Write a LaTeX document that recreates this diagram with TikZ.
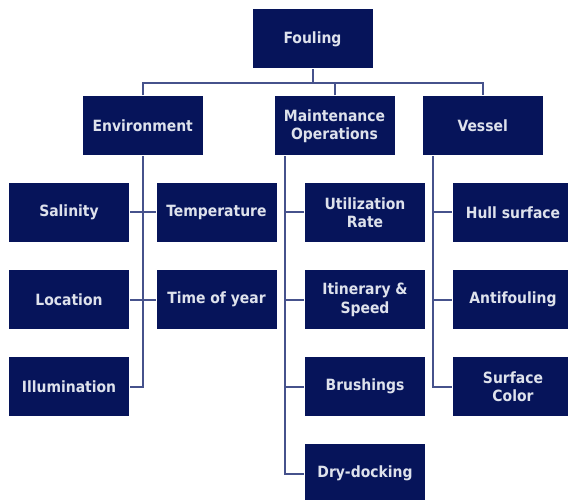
\documentclass[tikz,border=0pt]{standalone}
\usepackage{fontspec}
\usepackage{tikz}
\newfontfamily\boxfont{DejaVu Sans Condensed}
\definecolor{navybox}{RGB}{6,20,90}
\definecolor{linkblue}{RGB}{70,82,140}
\definecolor{boxtext}{RGB}{222,226,236}

\begin{document}
\begin{tikzpicture}[x=1pt, y=-1pt, line width=2pt,
    box/.style = {fill=navybox, text=boxtext, minimum width=120pt, minimum height=59pt,
        inner sep=0pt, align=center, font=\boxfont\bfseries\fontsize{15.5}{18.5}\selectfont},
    link/.style = {draw=linkblue, line width=2pt}]

    \clip (0,0) rectangle (568,500);
    \useasboundingbox (0,0) rectangle (568,500);

    % Nodes
    \node[box] (fouling) at (312.5, 39) {Fouling};
    \node[box] (env) at (142.7, 126) {Environment};
    \node[box] (maint) at (334.5, 126) {Maintenance\\Operations};
    \node[box] (vessel) at (482.7, 126) {Vessel};

    \node[box] (salinity) at (69, 212.5) {Salinity};
    \node[box] (temp) at (216.5, 212.5) {Temperature};
    \node[box] (location) at (69, 299.5) {Location};
    \node[box] (timeyear) at (216.5, 299.5) {Time of year};
    \node[box] (illum) at (69, 386.5) {Illumination};

    \node[box] (util) at (365, 212.5) {Utilization\\Rate};
    \node[box] (itin) at (365, 299.5) {Itinerary \&\\Speed};
    \node[box] (brush) at (365, 386.5) {Brushings};
    \node[box] (dry) at (365, 473.5) {Dry-docking};

    \node[box] (hull) at (513, 212.5) {Hull surface};
    \node[box] (anti) at (513, 299.5) {Antifouling};
    \node[box] (color) at (513, 386.5) {Surface\\Color};

    \coordinate (bus) at ([yshift=-14pt]fouling.south);
    \coordinate (mspine) at ([xshift=11pt]maint.south west);
    \coordinate (vspine) at ([xshift=11pt]vessel.south west);

    % Edges
    \draw[link] (fouling.south) -- (bus);
    \draw[link] (env.north) |- (bus) -| (vessel.north);
    \draw[link] (maint.north) -- (maint.north |- bus);

    \draw[link] (env.south) |- (illum.east);
    \draw[link] (salinity.east) -- (temp.west);
    \draw[link] (location.east) -- (timeyear.west);

    \draw[link] (mspine) |- (dry.west);
    \foreach \n in {util, itin, brush}
        \draw[link] (\n.west) -- (\n.west -| mspine);

    \draw[link] (vspine) |- (color.west);
    \foreach \n in {hull, anti}
        \draw[link] (\n.west) -- (\n.west -| vspine);

\end{tikzpicture}
\end{document}
